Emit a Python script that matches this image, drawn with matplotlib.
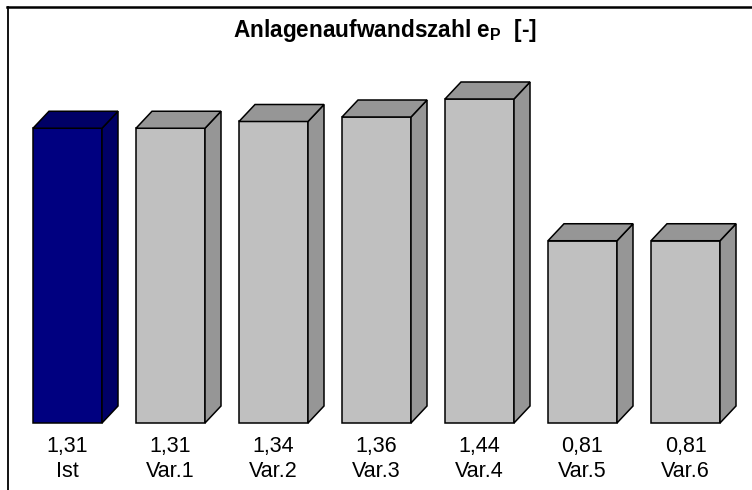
import matplotlib
matplotlib.use("Agg")
import matplotlib.pyplot as plt
from matplotlib.patches import Polygon
from matplotlib.lines import Line2D

plt.rcParams['font.family'] = ['Liberation Sans', 'DejaVu Sans']
plt.rcParams['mathtext.fontset'] = 'custom'
plt.rcParams['mathtext.rm'] = 'Liberation Sans'
plt.rcParams['mathtext.bf'] = 'Liberation Sans:bold'

categories = ['Ist', 'Var.1', 'Var.2', 'Var.3', 'Var.4', 'Var.5', 'Var.6']
values = [1.31, 1.31, 1.34, 1.36, 1.44, 0.81, 0.81]
front_colors = ['#000080', '#C0C0C0', '#C0C0C0', '#C0C0C0', '#C0C0C0', '#C0C0C0', '#C0C0C0']
shade_colors = ['#000066', '#969696', '#969696', '#969696', '#969696', '#969696', '#969696']
title = r'Anlagenaufwandszahl e$_\mathbf{P}$  [-]'

W, H = 752, 490
fig = plt.figure(figsize=(W / 100, H / 100), dpi=100)
ax = fig.add_axes([0, 0, 1, 1])
ax.axis('off')

# pixel scale: 103 px per category, 225 px per unit, zero at y=423 from top
px_x = 103.0
px_y = 225.0
x0 = 67.5
y0 = 423.0
ax.set_xlim(-x0 / px_x, (W - x0) / px_x)
ax.set_ylim(-(H - y0) / px_y, y0 / px_y)

half = 34.5 / px_x
dx = 16 / px_x
dy = 17 / px_y

for i, v in enumerate(values):
    l, r = i - half, i + half
    front = Polygon([(l, 0), (r, 0), (r, v), (l, v)], closed=True,
                    facecolor=front_colors[i], edgecolor='black', lw=1.1, zorder=2)
    side = Polygon([(r, 0), (r + dx, dy), (r + dx, v + dy), (r, v)], closed=True,
                   facecolor=shade_colors[i], edgecolor='black', lw=1.1, zorder=2)
    top = Polygon([(l, v), (r, v), (r + dx, v + dy), (l + dx, v + dy)], closed=True,
                  facecolor=shade_colors[i], edgecolor='black', lw=1.1, zorder=2)
    for p in (front, side, top):
        ax.add_patch(p)
    ax.text(i, -23 / px_y, f'{v:.2f}'.replace('.', ','), ha='center', va='center', fontsize=15.5)
    ax.text(i, -48 / px_y, categories[i], ha='center', va='center', fontsize=15.5)

fig.text(385 / W, 1 - 30 / H, title, ha='center', va='center', fontsize=16.3, fontweight='bold')

# chart frame (only top and left edges visible)
fig.add_artist(Line2D([7 / W, 1], [1 - 7.5 / H, 1 - 7.5 / H], color='black', lw=1.8))
fig.add_artist(Line2D([7.5 / W, 7.5 / W], [0, 1 - 7.5 / H], color='black', lw=1.3))

fig.savefig('out.png', dpi=100)
